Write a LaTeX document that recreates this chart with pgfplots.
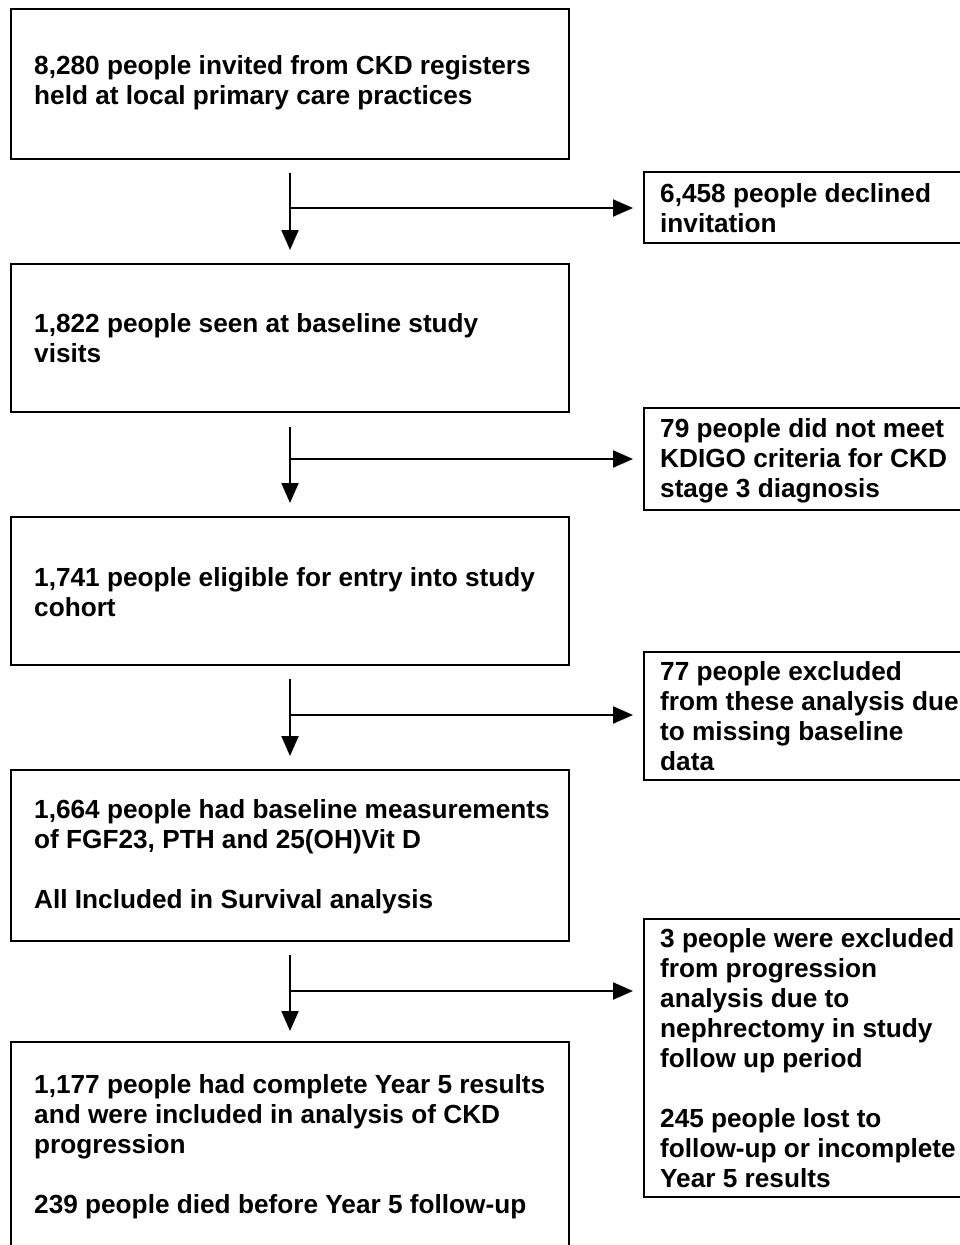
\documentclass[border=0pt]{standalone}
\usepackage{pgfplots}
\pgfplotsset{compat=1.18}
\usepackage{fontspec}
\setmainfont{Liberation Sans}
\usetikzlibrary{arrows.meta}
\begin{document}
\begin{tikzpicture}
\begin{axis}[
  width=960pt, height=1245pt, scale only axis,
  xmin=0, xmax=960, ymin=0, ymax=1245, y dir=reverse,
  axis lines=none, ticks=none, clip=true,
]
% boxes
\draw[line width=2.5pt] (11,9) rectangle (569,159);
\draw[line width=2.5pt] (11,264) rectangle (569,412);
\draw[line width=2.5pt] (11,517) rectangle (569,665);
\draw[line width=2.5pt] (11,770) rectangle (569,941);
\draw[line width=2.5pt] (11,1042) rectangle (569,1260);
\draw[line width=2.5pt] (644,172) rectangle (975,243);
\draw[line width=2.5pt] (644,408) rectangle (975,510);
\draw[line width=2.5pt] (644,652) rectangle (975,780);
\draw[line width=2.5pt] (644,919) rectangle (975,1197);
% arrows
\tikzset{ar/.style={line width=2.2pt,-{Triangle[width=17pt,length=20pt]}}}
\draw[ar] (290,173) -- (290,250);
\draw[ar] (290,208) -- (633,208);
\draw[ar] (290,427) -- (290,503);
\draw[ar] (290,459) -- (633,459);
\draw[ar] (290,679) -- (290,756);
\draw[ar] (290,715) -- (633,715);
\draw[ar] (290,955) -- (290,1031);
\draw[ar] (290,991) -- (633,991);
% text
\tikzset{t/.style={anchor=base west, inner sep=0pt, font=\fontsize{26.2}{30}\selectfont\bfseries}}
\node[t] at (34,74) {8,280 people invited from CKD registers};
\node[t] at (34,104) {held at local primary care practices};
\node[t] at (660,202) {6,458 people declined};
\node[t] at (660,232) {invitation};
\node[t] at (34,332) {1,822 people seen at baseline study};
\node[t] at (34,362) {visits};
\node[t] at (660,437) {79 people did not meet};
\node[t] at (660,467) {KDIGO criteria for CKD};
\node[t] at (660,497) {stage 3 diagnosis};
\node[t] at (34,586) {1,741 people eligible for entry into study};
\node[t] at (34,616) {cohort};
\node[t] at (660,680) {77 people excluded};
\node[t] at (660,710) {from these analysis due};
\node[t] at (660,740) {to missing baseline};
\node[t] at (660,770) {data};
\node[t] at (34,818) {1,664 people had baseline measurements};
\node[t] at (34,848) {of FGF23, PTH and 25(OH)Vit D};
\node[t] at (34,908) {All Included in Survival analysis};
\node[t] at (660,947) {3 people were excluded};
\node[t] at (660,977) {from progression};
\node[t] at (660,1007) {analysis due to};
\node[t] at (660,1037) {nephrectomy in study};
\node[t] at (660,1067) {follow up period};
\node[t] at (660,1127) {245 people lost to};
\node[t] at (660,1157) {follow-up or incomplete};
\node[t] at (660,1187) {Year 5 results};
\node[t] at (34,1093) {1,177 people had complete Year 5 results};
\node[t] at (34,1123) {and were included in analysis of CKD};
\node[t] at (34,1153) {progression};
\node[t] at (34,1213) {239 people died before Year 5 follow-up};
\end{axis}
\pgfresetboundingbox
\path[use as bounding box] (current axis.south west) rectangle (current axis.north east);
\end{tikzpicture}
\end{document}
